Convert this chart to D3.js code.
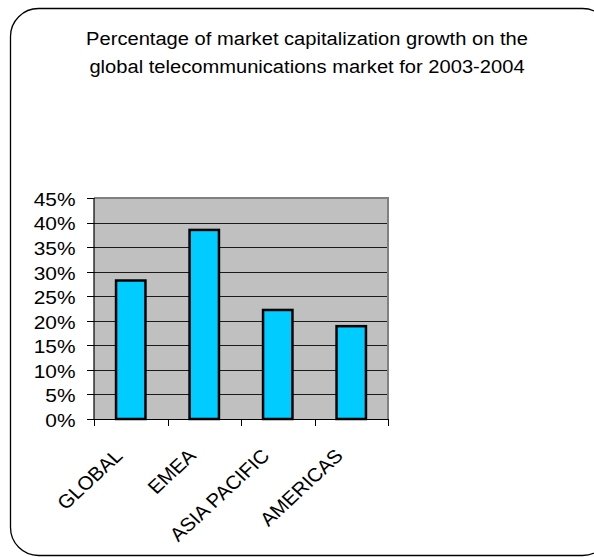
<!DOCTYPE html>
<html>
<head>
<meta charset="utf-8">
<script src="https://cdn.jsdelivr.net/npm/d3@7"></script>
<style>
  html, body { margin: 0; padding: 0; background: #fff; }
  svg { display: block; }
  text { font-family: "Liberation Sans", Arial, sans-serif; fill: #000; }
</style>
</head>
<body>
<svg id="chart" width="594" height="557"></svg>
<script>
// Data
const categories = ["GLOBAL", "EMEA", "ASIA PACIFIC", "AMERICAS"];
const values = [28.2, 38.5, 22.2, 18.9];
const yTicks = [0, 5, 10, 15, 20, 25, 30, 35, 40, 45];
const titleLines = [
  "Percentage of market capitalization growth on the",
  "global telecommunications market for 2003-2004"
];

const svg = d3.select("#chart");
const fs = 19;

// Frame
svg.append("rect")
  .attr("x", 10.5).attr("y", 8.5)
  .attr("width", 600).attr("height", 547)
  .attr("rx", 28).attr("ry", 28)
  .attr("fill", "#fff").attr("stroke", "#000").attr("stroke-width", 1.3);

// Title
const titleX = 307;
titleLines.forEach((t, i) => {
  svg.append("text")
    .attr("transform", `translate(${titleX},${45 + i * 28}) scale(1.06,1)`)
    .attr("text-anchor", "middle")
    .attr("font-size", fs)
    .text(t);
});

// Plot area
const plot = { left: 94, right: 388, top: 198, bottom: 419 };

const x = d3.scaleBand()
  .domain(categories)
  .range([plot.left, plot.right])
  .paddingInner(0.6)
  .paddingOuter(0.3);

const y = d3.scaleLinear()
  .domain([0, 45])
  .range([plot.bottom, plot.top]);

svg.append("rect")
  .attr("x", plot.left).attr("y", plot.top)
  .attr("width", plot.right - plot.left).attr("height", plot.bottom - plot.top)
  .attr("fill", "#c0c0c0");

// Gridlines
svg.append("g")
  .selectAll("line")
  .data(yTicks.filter(d => d > 0 && d < 45))
  .join("line")
  .attr("x1", plot.left).attr("x2", plot.right)
  .attr("y1", d => Math.round(y(d)) + 0.5).attr("y2", d => Math.round(y(d)) + 0.5)
  .attr("stroke", "#1a1a1a").attr("stroke-width", 1);

// Plot border top/right (gray)
svg.append("path")
  .attr("d", `M${plot.left},${plot.top} H${plot.right} V${plot.bottom}`)
  .attr("fill", "none").attr("stroke", "#808080").attr("stroke-width", 2);

// Bars
svg.append("g")
  .selectAll("rect")
  .data(categories.map((c, i) => ({ c, v: values[i] })))
  .join("rect")
  .attr("x", d => x(d.c))
  .attr("y", d => y(d.v))
  .attr("width", x.bandwidth())
  .attr("height", d => y(0) - y(d.v))
  .attr("fill", "#00ccff")
  .attr("stroke", "#000")
  .attr("stroke-width", 2.5);

// Y axis
const yAxis = svg.append("g");
yAxis.append("line")
  .attr("x1", plot.left).attr("x2", plot.left)
  .attr("y1", plot.top).attr("y2", plot.bottom)
  .attr("stroke", "#000").attr("stroke-width", 1.2);
yAxis.selectAll("line.tick")
  .data(yTicks)
  .join("line").attr("class", "tick")
  .attr("x1", plot.left - 7).attr("x2", plot.left)
  .attr("y1", d => Math.round(y(d)) + 0.5).attr("y2", d => Math.round(y(d)) + 0.5)
  .attr("stroke", "#000").attr("stroke-width", 1);
yAxis.selectAll("text")
  .data(yTicks)
  .join("text")
  .attr("transform", d => `translate(75.5,${y(d) + 1}) scale(1.1,1)`)
  .attr("text-anchor", "end")
  .attr("dy", "0.36em")
  .attr("font-size", fs)
  .text(d => d + "%");

// X axis
const xAxis = svg.append("g");
xAxis.append("line")
  .attr("x1", plot.left).attr("x2", plot.right)
  .attr("y1", plot.bottom + 0.5).attr("y2", plot.bottom + 0.5)
  .attr("stroke", "#000").attr("stroke-width", 1.2);
const tickPos = categories.map(c => x(c) - x.step() * x.paddingInner() / 2)
  .concat([plot.right]);
xAxis.selectAll("line.tick")
  .data(tickPos)
  .join("line").attr("class", "tick")
  .attr("x1", d => Math.round(d) + 0.5).attr("x2", d => Math.round(d) + 0.5)
  .attr("y1", plot.bottom).attr("y2", plot.bottom + 7)
  .attr("stroke", "#000").attr("stroke-width", 1);
xAxis.selectAll("text")
  .data(categories)
  .join("text")
  .attr("transform", d => `translate(${x(d) + x.bandwidth() / 2 - 7},${457}) scale(1.08,1) rotate(-45)`)
  .attr("text-anchor", "end")
  .attr("font-size", fs)
  .text(d => d);
</script>
</body>
</html>
